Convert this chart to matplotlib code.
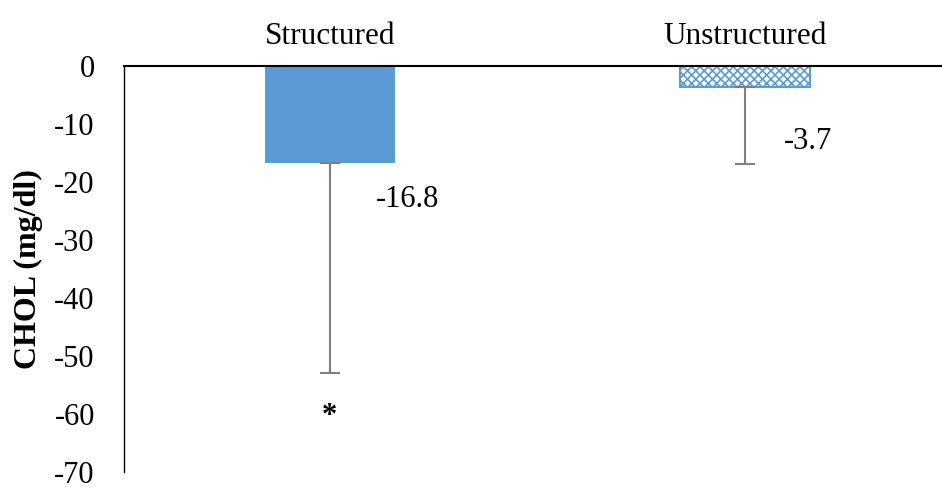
import matplotlib.pyplot as plt

plt.rcParams['font.family'] = ['Liberation Serif', 'DejaVu Serif']
plt.rcParams['hatch.linewidth'] = 1.2
plt.rcParams['axes.unicode_minus'] = False

groups = ['Structured', 'Unstructured']
change = [-16.8, -3.7]
err_down = [36.1, 13.2]
value_labels = ['-16.8', '-3.7']

fig = plt.figure(figsize=(9.42, 4.88), dpi=100)
ax = fig.add_axes([0.1316, 0.0328, 0.8684, 0.832])

x = [0, 1]
ax.bar(x[0], change[0], width=0.313, color='#5B9BD5', zorder=2)
ax.bar(x[1], change[1], width=0.313, facecolor='white', edgecolor='#5B9BD5',
       hatch='xxxx', linewidth=1.5, zorder=2)
ax.errorbar(x, change, yerr=[err_down, [0, 0]], fmt='none', ecolor='#7F7F7F',
            elinewidth=1.5, capsize=7, capthick=1.5, zorder=3)

# value labels next to the error bars
ax.text(x[0] + 0.11, change[0] - 6.2, value_labels[0], fontsize=22, ha='left', va='center')
ax.text(x[1] + 0.095, change[1] - 9.3, value_labels[1], fontsize=22, ha='left', va='center')
ax.text(x[0], -60.5, '*', fontsize=22, fontweight='bold', ha='center', va='center')

ax.set_xlim(-0.496, 1.475)
ax.set_ylim(-70, 0)
ax.set_yticks(range(-70, 1, 10))
ax.set_xticks(x)
ax.set_xticklabels(groups)
ax.xaxis.tick_top()
ax.tick_params(axis='x', length=0, labelsize=22.5, pad=11)
ax.tick_params(axis='y', length=0, labelsize=22, pad=21)

ax.spines['right'].set_visible(False)
ax.spines['bottom'].set_visible(False)
ax.spines['top'].set_linewidth(1.5)
ax.spines['left'].set_linewidth(1.0)

ax.set_ylabel('CHOL (mg/dl)', fontsize=23, fontweight='bold', labelpad=8)

fig.savefig('out.png', dpi=100)
